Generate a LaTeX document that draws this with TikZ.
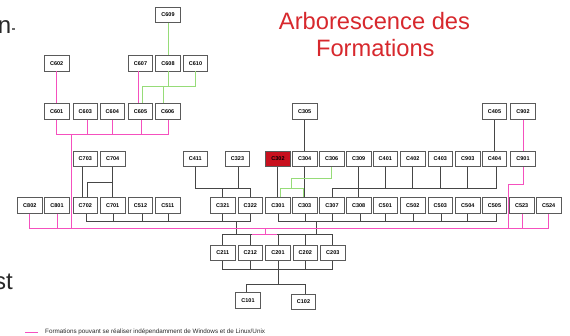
\documentclass[tikz,border=0pt]{standalone}
\usepackage{fontspec}
\setmainfont{Liberation Sans}
\usetikzlibrary{calc}
\definecolor{pinkline}{RGB}{245,80,190}
\definecolor{greenline}{RGB}{150,220,120}
\definecolor{darkline}{RGB}{70,70,70}
\definecolor{boxborder}{RGB}{90,90,90}
\definecolor{titlered}{RGB}{215,40,45}
\definecolor{hotbox}{RGB}{200,16,30}
\definecolor{slidetext}{RGB}{40,40,40}
\begin{document}
\begin{tikzpicture}[x=1pt,y=-1pt,
  cbox/.style={draw=boxborder,line width=0.8pt,fill=white,minimum width=24.5pt,minimum height=15.5pt,inner sep=0pt,font=\fontsize{5.5}{6}\selectfont\bfseries},
  bl/.style={draw=darkline,line width=0.8pt},
  pl/.style={draw=pinkline,line width=0.9pt},
  gl/.style={draw=greenline,line width=0.9pt},
  titletext/.style={font=\fontsize{23.7}{24}\selectfont,text=titlered,anchor=base,inner sep=0pt},
  sidetext/.style={font=\fontsize{24}{24}\selectfont,text=slidetext,anchor=base west,inner sep=0pt}]
\useasboundingbox (0,0) rectangle (570,336);
% rows
\node[cbox] (c609) at (168,15) {C609};
\node[cbox] (c602) at (56.7,63.3) {C602};
\node[cbox] (c607) at (140.5,63.3) {C607};
\node[cbox] (c608) at (168,63.3) {C608};
\node[cbox] (c610) at (195.5,63.3) {C610};
\foreach \n/\x in {601/56.7,603/85.3,604/112.3,605/140.5,606/167.7,305/304.7,405/494.5,902/523}
  \node[cbox] (c\n) at (\x,111.5) {C\n};
\foreach \n/\x in {703/85.3,704/112.7,411/195.3,323/237.5,304/304.7,306/331.7,309/358.7,401/385.3,402/412.8,403/440.3,903/467.8,404/494.5,901/523}
  \node[cbox] (c\n) at (\x,159) {C\n};
\node[cbox,fill=hotbox] (c302) at (278,159) {C302};
\foreach \n/\x in {802/29.8,801/57,702/85.3,701/112.7,512/140.5,511/167.7,321/222.8,322/250.3,301/278,303/304.7,307/332,308/358.7,501/385.3,502/412.8,503/440.3,504/467.8,505/494.5,523/521.7,524/548.7}
  \node[cbox] (c\n) at (\x,205.5) {C\n};
\foreach \n/\x in {211/222.8,212/250.3,201/278,202/305.3,203/332.8}
  \node[cbox] (c\n) at (\x,253) {C\n};
\node[cbox] (c101) at (248,300.5) {C101};
\node[cbox] (c102) at (303.5,302) {C102};
% bus levels
\coordinate (gb) at (0,86.7);
\coordinate (b134) at (0,134);
\coordinate (b178) at (0,178.3);
\coordinate (b183) at (0,182.7);
\coordinate (b184) at (0,184.3);
\coordinate (b188) at (0,188.3);
\coordinate (b221) at (0,221.5);
\coordinate (b228) at (0,228.3);
\coordinate (b234) at (0,234.3);
\coordinate (b269) at (0,269.3);
\coordinate (b284) at (0,284.3);
% black connectors
\draw[bl] (c305.south) -- (c304.north);
\draw[bl] (c304.south) -- (c303.north);
\draw[bl] ([xshift=-0.3pt]c302.south) -- ([xshift=-0.3pt]c301.north);
\draw[bl] (c405.south) -- (c404.north);
\draw[bl] (c309.south) -- (c308.north);
\draw[bl] ([xshift=-2.6pt]c703.south) -- ([xshift=-2.6pt]c702.north);
\draw[bl] (c704.south) -- (c701.north);
\draw[bl] (c704.south |- b183) -| ([xshift=2pt]c702.north);
\foreach \n in {401,402,403,903}
  \draw[bl] (c\n.south) -- (c\n.south |- b188);
\draw[bl] ([xshift=1.5pt]c404.south) |- (c307.north |- b188) -- (c307.north);
\draw[bl] (c411.south) |- (c322.north |- b188) -- (c322.north);
\draw[bl] ([xshift=0.8pt]c323.south) -- ([xshift=0.8pt]c323.south |- b188);
\draw[bl] ([xshift=-0.5pt]c321.north) -- ([xshift=-0.5pt]c321.north |- b188);
\draw[bl] ([xshift=1.4pt]c702.south) |- (c322.south |- b221) -- (c322.south);
\foreach \n/\s in {701/0.6,512/1.8,511/0.6,321/0}
  \draw[bl] ([xshift=\s pt]c\n.south) -- ([xshift=\s pt]c\n.south |- b221);
\draw[bl] (c301.south) |- ([xshift=1.5pt]c505.south |- b221) -- ([xshift=1.5pt]c505.south);
\foreach \n/\s in {303/1,307/0.7,308/2,501/0,502/0.5,503/0.7,504/0}
  \draw[bl] ([xshift=\s pt]c\n.south) -- ([xshift=\s pt]c\n.south |- b221);
\coordinate (m1) at (236,0);
\coordinate (m2) at (316,0);
\draw[bl] (m1 |- b221) -- (m1 |- b234);
\draw[bl] (m2 |- b221) -- (m2 |- b234);
\draw[bl] (c211.north) |- (c203.north |- b234) -- (c203.north);
\foreach \n in {212,201,202}
  \draw[bl] (c\n.north) -- (c\n.north |- b234);
\draw[bl] (c211.south) |- (c203.south |- b269) -- (c203.south);
\foreach \n in {212,201,202}
  \draw[bl] (c\n.south) -- (c\n.south |- b269);
\draw[bl] (c201.south |- b269) -- (c201.south |- b284);
\draw[bl] ([xshift=-1.3pt]c101.north) |- ([xshift=1.5pt]c102.north |- b284) -- ([xshift=1.5pt]c102.north);
% green connectors
\draw[gl] (c609.south) -- (c608.north);
\draw[gl] (c608.south) -- (c608.south |- gb);
\draw[gl] (c610.south) |- ([xshift=2.2pt]c605.north |- gb) -- ([xshift=2.2pt]c605.north);
\draw[gl] ([xshift=-4.4pt]c606.north) -- ([xshift=-4.4pt]c606.north |- gb);
\coordinate (g2) at (291.7,178.3);
\coordinate (g3) at (291.7,188.3);
\draw[gl] (c306.south) |- (g2) -- (g3);
\draw[gl] ([xshift=2pt]c301.north) |- ([xshift=-1.4pt]c303.north |- b188) -- ([xshift=-1.4pt]c303.north);
% pink connectors
\draw[pl] (c602.south) -- (c601.north);
\draw[pl] ([xshift=-2.2pt]c607.south) -- ([xshift=-2.2pt]c605.north);
\draw[pl] (c601.south) |- ([xshift=0.6pt]c606.south |- b134) -- ([xshift=0.6pt]c606.south);
\foreach \n/\s in {603/2,604/0.4,605/0.8}
  \draw[pl] ([xshift=\s pt]c\n.south) -- ([xshift=\s pt]c\n.south |- b134);
\coordinate (pt) at (71.3,134);
\draw[pl] (pt) -- (pt |- b228);
\draw[pl] (c802.south) |- (c524.south |- b228) -- (c524.south);
\draw[pl] (c801.south) -- (c801.south |- b228);
\draw[pl] ([xshift=0.6pt]c523.south) -- ([xshift=0.6pt]c523.south |- b228);
\coordinate (p1) at (508.3,184.3);
\draw[pl] (c902.south) -- (c901.north);
\draw[pl] (c901.south) |- (p1) -- (p1 |- b228);
\coordinate (pj) at (265,228.3);
\coordinate (pa) at (251.7,234.3);
\coordinate (pb) at (276.7,234.3);
\draw[pl] (pj) -- (pj |- b234);
\draw[pl] (pa) -- (pb);
% texts
\node[titletext] (t1) at (374.5,29.3) {Arborescence des};
\node[titletext] (t2) at (375.3,56.7) {Formations};
\node[sidetext] (ln) at (-2.4,33.3) {n};
\fill[slidetext!70] (11.7,28) rectangle (15,30);
\node[sidetext] (ls) at (-6,290) {st};
\coordinate (la) at (25,332.3);
\coordinate (lb) at (38.3,332.3);
\draw[pl] (la) -- (lb);
\node[font=\fontsize{6.3}{7}\selectfont,anchor=west,inner sep=0pt,text=slidetext] (leg) at (45,332.3) {Formations pouvant se réaliser indépendamment de Windows et de Linux/Unix};
\end{tikzpicture}
\end{document}
